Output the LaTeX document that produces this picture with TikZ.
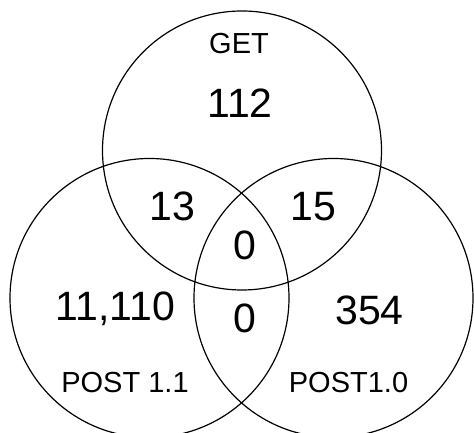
\documentclass[tikz,border=0pt]{standalone}
\usepackage{fontspec}
\setmainfont{Liberation Sans}
\begin{document}
\begin{tikzpicture}[x=1pt,y=1pt,
  setcircle/.style={draw=black,line width=1.2pt,circle,minimum size=279pt,inner sep=0pt},
  numtext/.style={anchor=base,inner sep=0pt,font=\fontsize{41}{43}\selectfont},
  labtext/.style={anchor=base,inner sep=0pt,font=\fontsize{29}{31}\selectfont}]
\useasboundingbox (0,0) rectangle (474,433);
\begin{scope}
\clip (0,0) rectangle (474,433);
\node[setcircle] (get) at (242,{433-150.5}) {};
\node[setcircle] (p11) at (149.5,{433-298}) {};
\node[setcircle] (p10) at (333.5,{433-298}) {};
\end{scope}
\node[labtext] (lget) at (239,{433-54}) {GET};
\node[numtext] (n112) at (240,{433-118}) {112};
\node[numtext] (n13) at (172.5,{433-221}) {13};
\node[numtext] (n15) at (313.5,{433-221}) {15};
\node[numtext] (n0a) at (244.5,{433-259.5}) {0};
\node[numtext] (n0b) at (244.5,{433-332.5}) {0};
\node[numtext] (n11110) at (115.5,{433-321}) {11,110};
\node[numtext] (n354) at (369.5,{433-325}) {354};
\node[labtext] (l11) at (125,{433-393}) {POST 1.1};
\node[labtext] (l10) at (348.5,{433-393}) {POST1.0};
\end{tikzpicture}
\end{document}
